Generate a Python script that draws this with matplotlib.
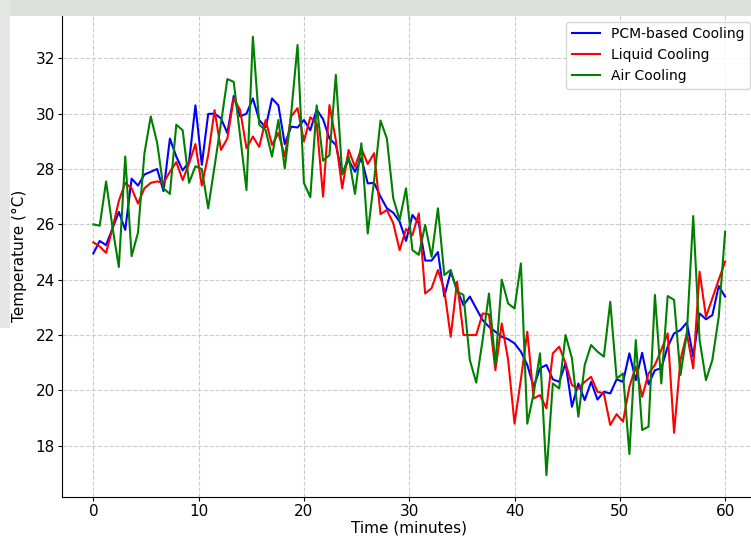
import numpy as np
import matplotlib
matplotlib.use("Agg")
import matplotlib.pyplot as plt
from matplotlib.patches import Rectangle

time = np.linspace(0, 60, 100)

pcm = [24.95, 25.4, 25.25, 25.85, 26.45, 25.8, 27.65, 27.4, 27.8, 27.9,
       28.0, 27.2, 29.1, 28.45, 27.95, 28.25, 30.3, 28.15, 29.99, 30.0,
       29.83, 29.3, 30.64, 29.9, 30.0, 30.55, 29.77, 29.5, 30.55, 30.3,
       28.9, 29.53, 29.5, 29.77, 29.4, 30.15, 29.8, 29.1, 28.87, 27.84,
       28.33, 27.9, 28.39, 27.48, 27.5, 27.0, 26.58, 26.42, 26.1, 25.4,
       26.34, 26.04, 24.69, 24.69, 25.0, 23.39, 24.29, 23.63, 23.08, 23.39,
       22.96, 22.54, 22.3, 22.12, 21.94, 21.85, 21.7, 21.4, 20.92, 20.13,
       20.8, 20.92, 20.4, 20.31, 20.98, 19.41, 20.25, 19.65, 20.31, 19.67,
       19.95, 19.89, 20.4, 20.31, 21.34, 20.37, 21.36, 20.22, 20.73, 20.8,
       21.58, 22.06, 22.18, 22.45, 21.22, 22.78, 22.57, 22.72, 23.77, 23.39]

liquid = [25.35, 25.2, 24.97, 25.85, 26.85, 27.5, 27.3, 26.75, 27.3, 27.5,
          27.55, 27.5, 27.9, 28.25, 27.6, 28.2, 28.9, 27.4, 28.5, 30.13,
          28.69, 29.1, 30.55, 30.13, 28.75, 29.17, 28.8, 29.77, 28.87, 29.3,
          28.45, 29.9, 30.2, 29.0, 29.87, 29.65, 27.0, 30.31, 29.05, 27.3,
          28.69, 28.08, 28.75, 28.18, 28.57, 26.37, 26.52, 26.04, 25.07, 25.83,
          25.61, 26.4, 23.5, 23.69, 24.35, 23.63, 21.94, 23.93, 22.0, 22.0,
          22.0, 22.78, 22.75, 20.73, 22.42, 21.1, 18.8, 20.4, 22.12, 19.71,
          19.83, 19.35, 21.34, 21.58, 20.98, 20.19, 20.07, 20.31, 20.49, 19.95,
          19.89, 18.75, 19.14, 18.87, 20.13, 20.86, 19.77, 20.61, 20.92, 21.46,
          22.06, 18.47, 21.1, 22.06, 20.8, 24.29, 22.66, 23.33, 24.0, 24.65]

air = [26.0, 25.95, 27.55, 25.9, 24.46, 28.45, 24.85, 25.7, 28.55, 29.9,
       28.95, 27.3, 27.1, 29.6, 29.4, 27.5, 28.1, 28.0, 26.58, 28.1,
       29.65, 31.25, 31.15, 29.2, 27.24, 32.78, 29.6, 29.4, 28.45, 29.77,
       28.02, 30.0, 32.48, 27.5, 26.98, 30.3, 28.3, 28.5, 31.4, 27.8,
       28.45, 27.1, 28.93, 25.67, 27.6, 29.75, 29.1, 26.94, 26.16, 27.3,
       25.07, 24.9, 25.98, 24.83, 26.58, 24.17, 24.35, 23.57, 23.45, 21.1,
       20.28, 21.82, 23.5, 20.92, 24.0, 23.14, 22.96, 24.59, 18.8, 19.89,
       21.34, 16.94, 20.25, 20.07, 22.0, 21.16, 19.05, 20.92, 21.64, 21.4,
       21.22, 23.2, 20.43, 20.61, 17.7, 21.82, 18.57, 18.69, 23.45, 20.25,
       23.41, 23.27, 20.55, 22.06, 26.3, 21.82, 20.37, 21.1, 22.66, 25.73]

labels = ["PCM-based Cooling", "Liquid Cooling", "Air Cooling"]
colors = ["blue", "red", "green"]

fig = plt.figure(figsize=(7.51, 5.38), dpi=100)
ax = fig.add_axes([0.0822, 0.0762, 0.9254, 0.8963])

for series, lab, col in zip([pcm, liquid, air], labels, colors):
    ax.plot(time, series, color=col, lw=1.5, label=lab)

ax.set_xlabel("Time (minutes)", fontsize=11, labelpad=1)
ax.set_ylabel("Temperature (°C)", fontsize=11, labelpad=6)
ax.tick_params(labelsize=11, length=3, pad=2)
ax.grid(True, linestyle="--", color="#cccccc", linewidth=0.8)
ax.spines["right"].set_visible(False)
ax.spines["top"].set_visible(False)
ax.legend(loc="upper right", fontsize=10)

# light grey overlay bands seen at the top and left edges of the screenshot
fig.patches.append(Rectangle((0, 1 - 16/538), 1, 16/538, transform=fig.transFigure,
                             facecolor="#dde1dd", edgecolor="none", zorder=10))
fig.patches.append(Rectangle((0, 1 - 328/538), 10/751, 328/538, transform=fig.transFigure,
                             facecolor="#e4e7e4", edgecolor="none", zorder=10))

fig.savefig("out.png", dpi=100)
